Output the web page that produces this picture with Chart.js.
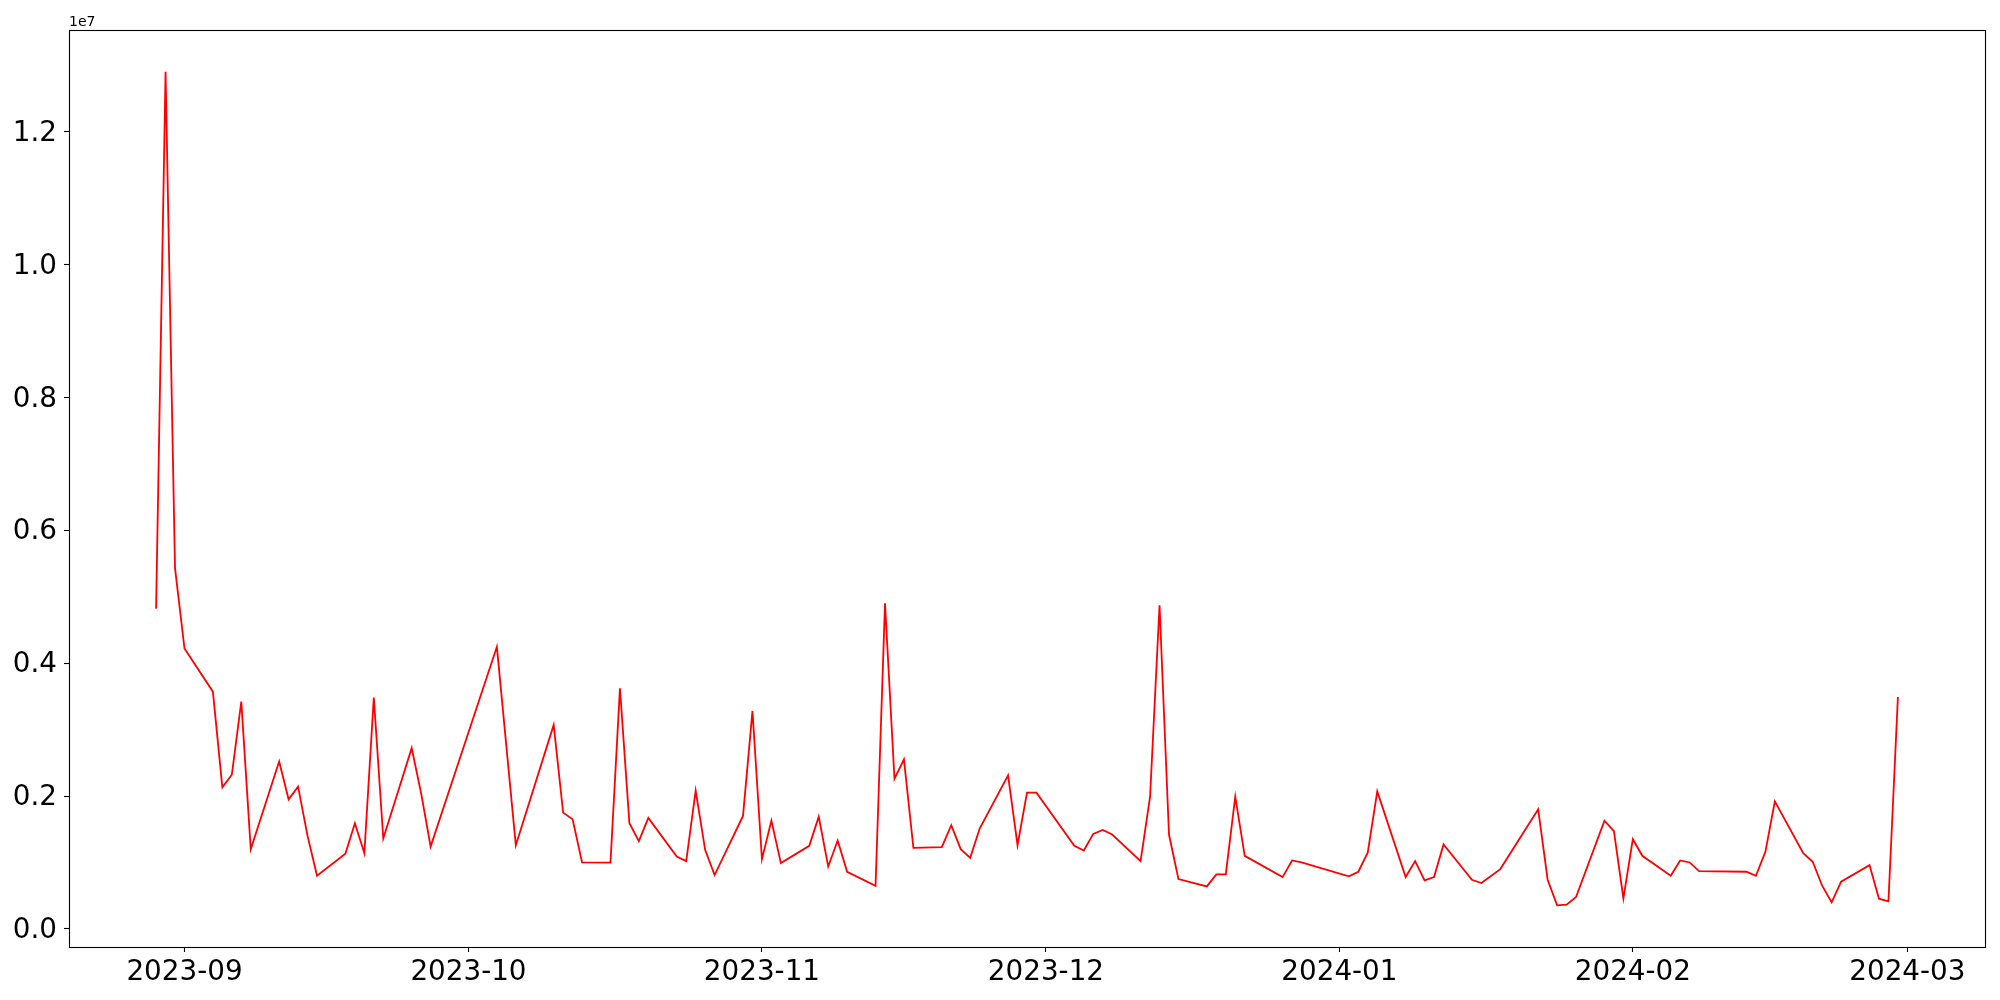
<!DOCTYPE html>
<html>
<head>
<meta charset="utf-8">
<script src="https://cdn.jsdelivr.net/npm/chart.js@4/dist/chart.umd.min.js"></script>
<style>
  html, body { margin: 0; padding: 0; background: #ffffff; }
  #wrap { width: 2000px; height: 1000px; }
</style>
</head>
<body>
<div id="wrap"><canvas id="c" width="2000" height="1000"></canvas></div>
<script>
// ---- Data ----
const dates = [
  '2023-08-29','2023-08-30','2023-08-31','2023-09-01','2023-09-04','2023-09-05','2023-09-06','2023-09-07','2023-09-08',
  '2023-09-11','2023-09-12','2023-09-13','2023-09-14','2023-09-15','2023-09-18','2023-09-19','2023-09-20','2023-09-21',
  '2023-09-22','2023-09-25','2023-09-26','2023-09-27','2023-10-04','2023-10-06','2023-10-10','2023-10-11','2023-10-12',
  '2023-10-13','2023-10-16','2023-10-17','2023-10-18','2023-10-19','2023-10-20','2023-10-23','2023-10-24','2023-10-25',
  '2023-10-26','2023-10-27','2023-10-30','2023-10-31','2023-11-01','2023-11-02','2023-11-03','2023-11-06','2023-11-07',
  '2023-11-08','2023-11-09','2023-11-10','2023-11-13','2023-11-14','2023-11-15','2023-11-16','2023-11-17','2023-11-20',
  '2023-11-21','2023-11-22','2023-11-23','2023-11-24','2023-11-27','2023-11-28','2023-11-29','2023-11-30','2023-12-04',
  '2023-12-05','2023-12-06','2023-12-07','2023-12-08','2023-12-11','2023-12-12','2023-12-13','2023-12-14','2023-12-15',
  '2023-12-18','2023-12-19','2023-12-20','2023-12-21','2023-12-22','2023-12-26','2023-12-27','2023-12-28','2024-01-02',
  '2024-01-03','2024-01-04','2024-01-05','2024-01-08','2024-01-09','2024-01-10','2024-01-11','2024-01-12','2024-01-15',
  '2024-01-16','2024-01-18','2024-01-22','2024-01-23','2024-01-24','2024-01-25','2024-01-26','2024-01-29','2024-01-30',
  '2024-01-31','2024-02-01','2024-02-02','2024-02-05','2024-02-06','2024-02-07','2024-02-08','2024-02-13','2024-02-14',
  '2024-02-15','2024-02-16','2024-02-19','2024-02-20','2024-02-21','2024-02-22','2024-02-23','2024-02-26','2024-02-27',
  '2024-02-28','2024-02-29'
];
const values = [
  4820000,12900000,5430000,4220000,3570000,2130000,2320000,3420000,1200000,
  2520000,1950000,2140000,1400000,800000,1130000,1590000,1140000,3480000,
  1360000,2720000,2040000,1240000,4245000,1260000,3070000,1750000,1650000,
  1000000,997000,3620000,1590000,1320000,1670000,1090000,1020000,2080000,
  1190000,810000,1700000,3280000,1050000,1630000,990000,1250000,1690000,
  940000,1330000,860000,650000,4900000,2260000,2550000,1220000,1230000,
  1560000,1200000,1070000,1510000,2310000,1260000,2050000,2050000,1250000,
  1180000,1430000,1490000,1420000,1020000,1990000,4870000,1420000,750000,
  640000,820000,820000,1990000,1100000,780000,1030000,1000000,790000,
  860000,1150000,2070000,780000,1020000,730000,780000,1270000,740000,
  690000,900000,1800000,740000,355000,365000,480000,1630000,1470000,
  460000,1350000,1100000,800000,1030000,1000000,870000,860000,800000,
  1160000,1920000,1140000,1010000,650000,400000,710000,960000,455000,
  415000,3490000
];
const monthTicks = ['2023-09-01','2023-10-01','2023-11-01','2023-12-01','2024-01-01','2024-02-01','2024-03-01'];
const yTicks = [0, 2000000, 4000000, 6000000, 8000000, 10000000, 12000000];
const offsetText = '1e7';

// ---- Build ----
const toMs = s => Date.parse(s + 'T00:00:00Z');
const pts = dates.map((d, i) => ({ x: toMs(d), y: values[i] }));
const xs = pts.map(p => p.x), ys = values;
const xMin0 = Math.min(...xs), xMax0 = Math.max(...xs);
const yMin0 = Math.min(...ys), yMax0 = Math.max(...ys);
const xm = (xMax0 - xMin0) * 0.05, ym = (yMax0 - yMin0) * 0.05;
const FONT = 'DejaVu Sans';

const frame = {
  id: 'frame',
  afterDraw(chart) {
    const { ctx, chartArea: a } = chart;
    ctx.save();
    ctx.strokeStyle = '#000';
    ctx.lineWidth = 1.1;
    ctx.strokeRect(Math.round(a.left) + 0.5, Math.round(a.top) + 0.5,
                   Math.round(a.right - a.left), Math.round(a.bottom - a.top));
    ctx.fillStyle = '#000';
    ctx.font = '14px "' + FONT + '"';
    ctx.textAlign = 'left';
    ctx.textBaseline = 'alphabetic';
    ctx.fillText(offsetText, a.left, a.top - 4);
    ctx.restore();
  }
};

new Chart(document.getElementById('c'), {
  type: 'line',
  data: {
    datasets: [{
      data: pts,
      borderColor: '#ff0000',
      borderWidth: 1.8,
      pointRadius: 0,
      tension: 0,
      fill: false
    }]
  },
  options: {
    responsive: false,
    animation: false,
    parsing: true,
    layout: { padding: { top: 30, right: 15, left: 0, bottom: 0 } },
    plugins: { legend: { display: false }, tooltip: { enabled: false } },
    scales: {
      x: {
        type: 'linear',
        min: xMin0 - xm,
        max: xMax0 + xm,
        afterBuildTicks: s => { s.ticks = monthTicks.map(m => ({ value: toMs(m) })); },
        afterFit: s => { s.height = 53; },
        ticks: {
          autoSkip: false,
          maxRotation: 0,
          padding: 4,
          color: '#000',
          font: { family: FONT, size: 27.8 },
          callback: v => { const d = new Date(v); return d.getUTCFullYear() + '-' + String(d.getUTCMonth() + 1).padStart(2, '0'); }
        },
        grid: { display: true, drawOnChartArea: false, drawTicks: true, tickLength: 5, tickColor: '#000', tickWidth: 1.1 },
        border: { display: false }
      },
      y: {
        type: 'linear',
        min: yMin0 - ym,
        max: yMax0 + ym,
        afterBuildTicks: s => { s.ticks = yTicks.map(v => ({ value: v })); },
        afterFit: s => { s.width = 69; },
        ticks: {
          autoSkip: false,
          padding: 7,
          labelOffset: 2,
          color: '#000',
          font: { family: FONT, size: 27.8 },
          callback: v => (v / 1e7).toFixed(1)
        },
        grid: { display: true, drawOnChartArea: false, drawTicks: true, tickLength: 5, tickColor: '#000', tickWidth: 1.1 },
        border: { display: false }
      }
    }
  },
  plugins: [frame]
});
</script>
</body>
</html>
